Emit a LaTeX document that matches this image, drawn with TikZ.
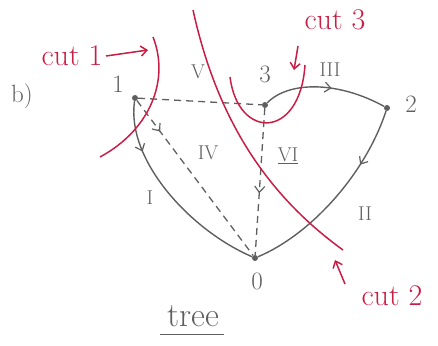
\documentclass[tikz,border=0pt]{standalone}
\usepackage{fontspec}
\usetikzlibrary{arrows.meta,decorations.markings}
\definecolor{pencil}{RGB}{95,95,95}
\definecolor{redpen}{RGB}{200,30,70}

\begin{document}
\begin{tikzpicture}[x=1pt, y=-1pt,
    vertex/.style={circle, fill=pencil, inner sep=0pt, minimum size=6pt},
    edge/.style={draw=pencil, line width=1.4pt},
    chord/.style={draw=pencil, line width=1.3pt, dash pattern=on 7pt off 5pt},
    cutline/.style={draw=redpen, line width=1.5pt},
    midarrow/.style={postaction={decorate}, decoration={markings,
        mark=at position #1 with {\arrow[pencil, line width=1.2pt]{Straight Barb[length=6pt, width=10pt]}}}},
    lbl/.style={text=pencil, font=\fontsize{25}{25}\selectfont},
    roman/.style={text=pencil, font=\fontsize{20}{20}\selectfont},
    cutlbl/.style={text=redpen, font=\fontsize{30}{30}\selectfont}]
    \useasboundingbox (0,0) rectangle (438,345);

    % Vertices
    \node[vertex] (n1) at (135,98) {};
    \node[vertex] (n3) at (265,105) {};
    \node[vertex] (n2) at (387,108) {};
    \node[vertex] (n0) at (255,258) {};

    % Vertex labels
    \node[lbl] (l1) at (118,84) {1};
    \node[lbl] (l3) at (265,74) {3};
    \node[lbl] (l2) at (411,104) {2};
    \node[lbl] (l0) at (257,281) {0};
    \node[lbl] (part) at (22,96) {b)};

    % Tree edges
    \path[edge, midarrow=0.25] (n1) .. controls (126,160) and (190,230) .. (n0);
    \path[edge, midarrow=0.3] (n2) .. controls (365,175) and (310,235) .. (n0);
    \path[edge, midarrow=0.55] (n3) .. controls (290,80) and (340,82) .. (n2);

    % Chords
    \path[chord, midarrow=0.2] (n1) -- (n0);
    \path[chord] (n1) -- (n3);
    \path[chord, midarrow=0.58] (n3) -- (n0);

    % Edge labels
    \node[roman] (eI) at (150,198) {I};
    \node[roman] (eII) at (365,214) {II};
    \node[roman] (eIII) at (330,70) {III};
    \node[roman] (eIV) at (208,153) {IV};
    \node[roman] (eV) at (198,72) {V};
    \node[roman] (eVI) at (288,156) {\underline{VI}};

    % Cuts
    \coordinate (c1a) at (153,37);
    \coordinate (c1b) at (100,157);
    \path[cutline] (c1a) .. controls (170,80) and (150,130) .. (c1b);
    \coordinate (c2a) at (193,10);
    \coordinate (c2b) at (343,250);
    \path[cutline] (c2a) .. controls (215,110) and (260,190) .. (c2b);
    \coordinate (c3a) at (230,77);
    \coordinate (c3b) at (305,65);
    \path[cutline] (c3a) .. controls (238,140) and (300,140) .. (c3b);

    % Cut labels
    \node[cutlbl] (cut1) at (72,56) {cut 1};
    \coordinate (cut1tip) at (148,50);
    \draw[cutline, -{Straight Barb[length=6pt, width=10pt]}] (cut1.east) -- (cut1tip);
    \node[cutlbl] (cut3) at (335,20) {cut 3};
    \coordinate (cut3tip) at (294,70);
    \draw[cutline, -{Straight Barb[length=6pt, width=10pt]}] (298,46) -- (cut3tip);
    \node[cutlbl] (cut2) at (392,296) {cut 2};
    \coordinate (cut2tip) at (335,260);
    \draw[cutline, -{Straight Barb[length=6pt, width=10pt]}] (345,284) -- (cut2tip);

    % Caption
    \node[lbl, font=\fontsize{34}{34}\selectfont] (caption) at (193,316) {tree};
    \draw[pencil, line width=0.8pt] (160,334) -- (224,334);
\end{tikzpicture}
\end{document}
